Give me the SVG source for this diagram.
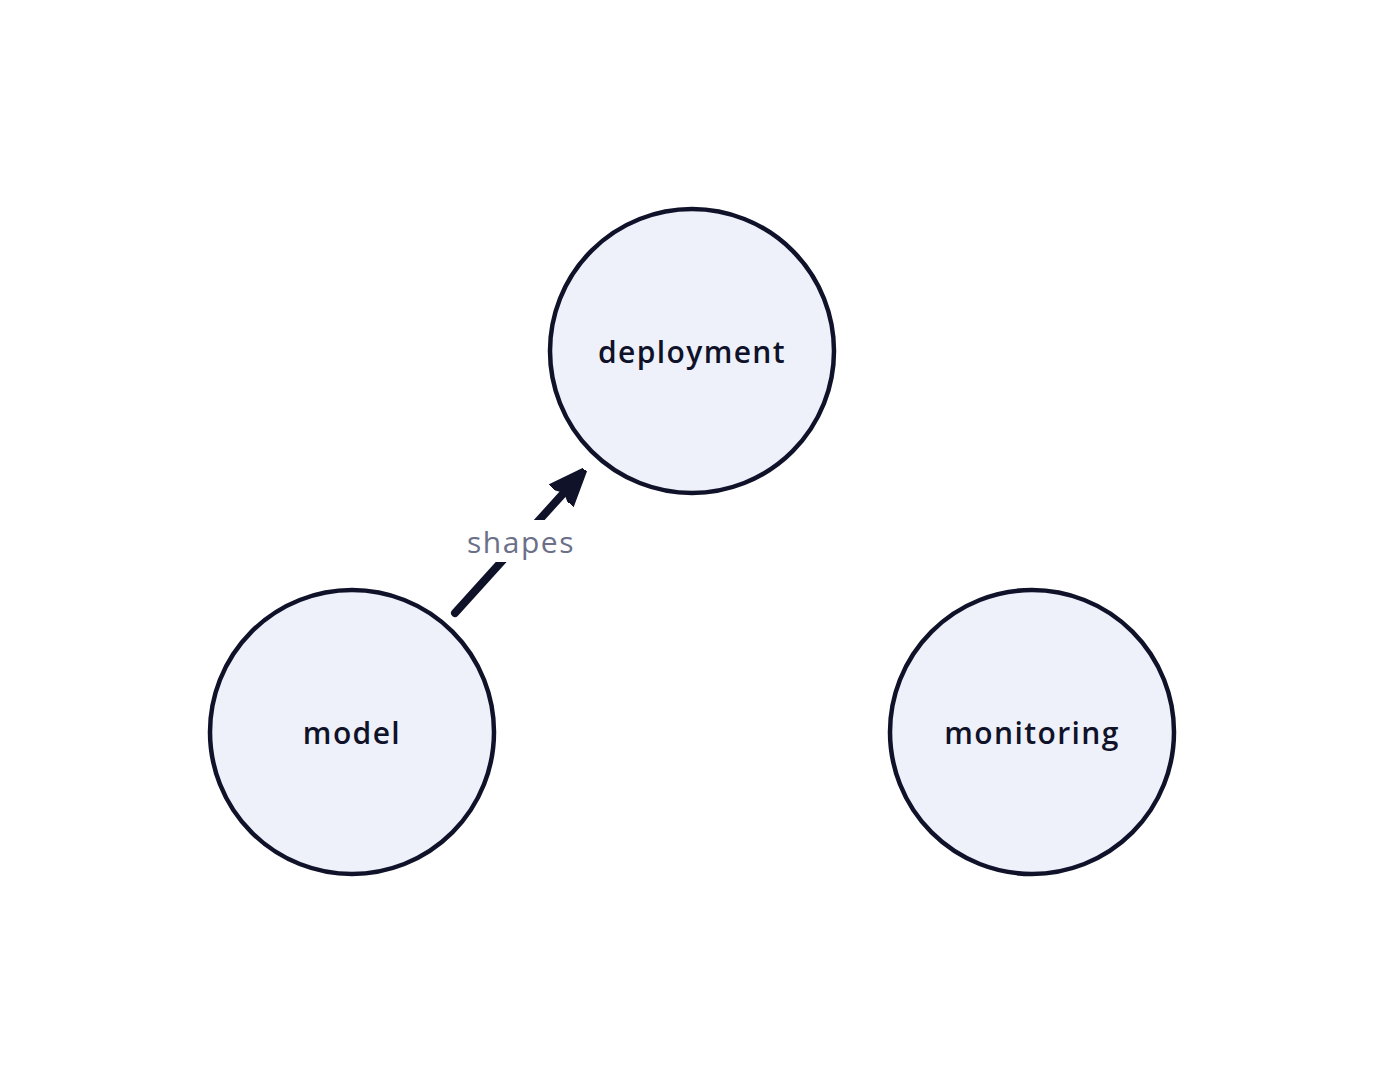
<svg xmlns="http://www.w3.org/2000/svg" width="1384" height="1084" viewBox="0 0 1384 1084">
<defs>
<style>
.node circle{fill:#eef1f9;stroke:#0f1229;stroke-width:4.5}
.node text{font-family:"Open Sans","Noto Sans",sans-serif;font-size:30px;font-weight:600;fill:#0f1229;text-anchor:middle;dominant-baseline:central;letter-spacing:1.4px}
.edge{stroke:#0f1229;stroke-width:8;stroke-linecap:round;fill:none}
.elabel{font-family:"Open Sans","Noto Sans",sans-serif;font-size:30px;fill:#6b7088;text-anchor:middle;dominant-baseline:central;letter-spacing:1.5px}
</style>
<marker id="arr" viewBox="0 0 10 10" refX="8" refY="5" markerWidth="4.4" markerHeight="4.4" orient="auto" markerUnits="strokeWidth">
<path d="M0,1 L10,5 L0,9 L2,5 Z" fill="#0f1229" stroke="#0f1229" stroke-width="1.5" stroke-linejoin="round"/>
</marker>
</defs>
<rect width="1384" height="1084" fill="#ffffff"/>
<g id="connectors">
<line class="edge" x1="455" y1="613" x2="580" y2="475" marker-end="url(#arr)"/>
<rect x="462" y="520" width="118" height="42" fill="#ffffff"/>
<text class="elabel" x="521" y="541">shapes</text>
</g>
<g id="node-deployment" class="node">
<circle cx="692" cy="351" r="142"/>
<text x="692" y="351">deployment</text>
</g>
<g id="node-model" class="node">
<circle cx="352" cy="732" r="142"/>
<text x="352" y="732">model</text>
</g>
<g id="node-monitoring" class="node">
<circle cx="1032" cy="732" r="142"/>
<text x="1032" y="732">monitoring</text>
</g>
</svg>
